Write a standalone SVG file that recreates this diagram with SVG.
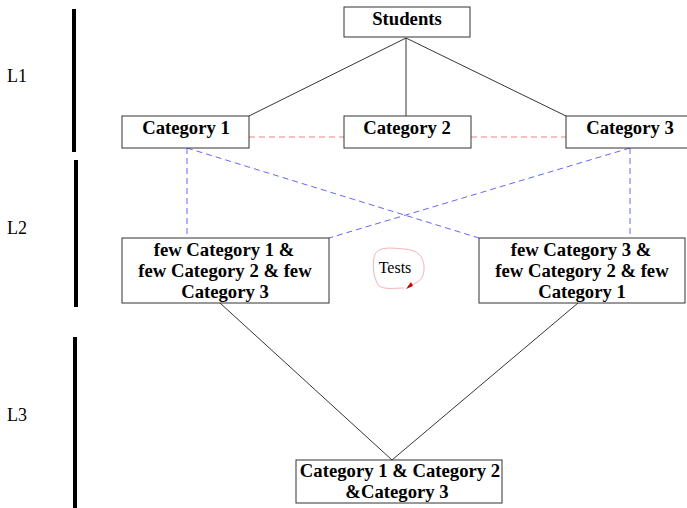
<svg xmlns="http://www.w3.org/2000/svg" width="687" height="508" viewBox="0 0 687 508">
<style>
.box{fill:#fff;stroke:#333;stroke-width:1}
.t{font-family:"Liberation Serif",serif;font-weight:bold;font-size:18.7px;fill:#000;text-anchor:middle}
.lv{font-family:"Liberation Serif",serif;font-size:18px;fill:#000}
.solid{stroke:#000;stroke-width:0.8;fill:none}
.red{stroke:#f08080;stroke-width:1;stroke-dasharray:6 4;fill:none}
.blue{stroke:#6666ff;stroke-width:1;stroke-dasharray:6 4;fill:none}
.bar{fill:#000}
</style>
<rect width="687" height="508" fill="#fff"/>
<g id="levels">
<rect class="bar" x="72" y="9" width="4" height="143"/>
<rect class="bar" x="74" y="160" width="4" height="147"/>
<rect class="bar" x="73" y="337" width="4" height="171"/>
<text class="lv" x="7" y="82">L1</text>
<text class="lv" x="7" y="234">L2</text>
<text class="lv" x="7" y="421">L3</text>
</g>
<g id="connectors">
<line class="solid" x1="406" y1="38" x2="249" y2="116"/>
<line class="solid" x1="406" y1="38" x2="406" y2="116"/>
<line class="solid" x1="406" y1="38" x2="566" y2="116"/>
<line class="red" x1="249" y1="137" x2="344" y2="137"/>
<line class="red" x1="471" y1="137" x2="566" y2="137"/>
<line class="blue" x1="187" y1="148" x2="187" y2="238"/>
<line class="blue" x1="187" y1="148" x2="479" y2="238"/>
<line class="blue" x1="630" y1="148" x2="630" y2="238"/>
<line class="blue" x1="630" y1="148" x2="329" y2="238"/>
<line class="solid" x1="220" y1="303" x2="392" y2="460"/>
<line class="solid" x1="578" y1="303" x2="392" y2="460"/>
</g>
<g id="students">
<rect class="box" x="344" y="7" width="126" height="30"/>
<text class="t" x="407" y="25">Students</text>
</g>
<g id="cat1">
<rect class="box" x="122" y="116" width="127" height="32"/>
<text class="t" x="186" y="134">Category 1</text>
</g>
<g id="cat2">
<rect class="box" x="344" y="116" width="127" height="32"/>
<text class="t" x="407" y="134">Category 2</text>
</g>
<g id="cat3">
<rect class="box" x="566" y="116" width="122" height="32"/>
<text class="t" x="630" y="134">Category 3</text>
</g>
<g id="mixLeft">
<rect class="box" x="122" y="238" width="207" height="65"/>
<text class="t" x="224" y="256">few Category 1 &amp;</text>
<text class="t" x="225" y="277">few Category 2 &amp; few</text>
<text class="t" x="225" y="298">Category 3</text>
</g>
<g id="mixRight">
<rect class="box" x="479" y="238" width="206" height="65"/>
<text class="t" x="581" y="256">few Category 3 &amp;</text>
<text class="t" x="582" y="277">few Category 2 &amp; few</text>
<text class="t" x="582" y="298">Category 1</text>
</g>
<g id="final">
<rect class="box" x="296" y="460" width="206" height="43"/>
<text class="t" x="400" y="477">Category 1 &amp; Category 2</text>
<text class="t" x="397" y="498">&amp;Category 3</text>
</g>
<g id="tests">
<path d="M408 286 C418 283 425 279 424 266 C423 256 418 250 404 249 C392 248 380 246 375 254 C372 262 373 276 378 285 C382 290 395 288 404 288" fill="none" stroke="#f0a0a8" stroke-width="0.8"/>
<path d="M406 289 L411 282 L413 286 Z" fill="#cc0000"/>
<text x="395" y="273" font-family="Liberation Serif, serif" font-size="16" text-anchor="middle" fill="#000">Tests</text>
</g>
</svg>
